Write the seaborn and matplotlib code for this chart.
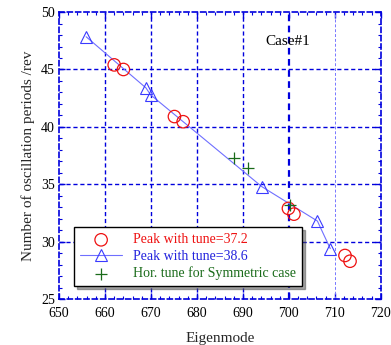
import matplotlib
matplotlib.use("Agg")
import matplotlib.pyplot as plt
import seaborn as sns
import pandas as pd
from matplotlib.ticker import MultipleLocator

red_x = [662.0, 664.0, 675.1, 677.0, 699.9, 701.1, 712.2, 713.3]
red_y = [45.4, 45.0, 40.9, 40.45, 32.9, 32.4, 28.8, 28.3]
tri_x = [655.9, 668.9, 669.9, 694.1, 706.2, 709.0]
tri_y = [47.85, 43.4, 42.8, 34.8, 31.8, 29.4]
plus_x = [688.0, 691.1, 700.2]
plus_y = [37.3, 36.4, 33.2]

labels = ["Peak with tune=37.2", "Peak with tune=38.6", "Hor. tune for Symmetric case"]

sns.set_theme(style="ticks")
plt.rcParams['font.family'] = ['Liberation Serif', 'DejaVu Serif']

fig = plt.figure(figsize=(3.91, 3.45), dpi=100)
ax = fig.add_axes([0.151, 0.133, 0.823, 0.832])

blue = "#0000dd"
df_r = pd.DataFrame({"x": red_x, "y": red_y})
df_t = pd.DataFrame({"x": tri_x, "y": tri_y})
df_p = pd.DataFrame({"x": plus_x, "y": plus_y})

sns.lineplot(data=df_t, x="x", y="y", ax=ax, color="#6f6fff", lw=0.8, marker="^",
             markersize=8.5, markerfacecolor="none", markeredgecolor="#3a3aff",
             markeredgewidth=0.8, sort=False, label=labels[1], zorder=3)
sns.scatterplot(data=df_r, x="x", y="y", ax=ax, marker="o", s=80, facecolor="none",
                edgecolor="#ee1111", linewidth=0.9, label=labels[0], zorder=4)
sns.scatterplot(data=df_p, x="x", y="y", ax=ax, marker="+", s=75, color="#1a6b1a",
                linewidth=0.9, label=labels[2], zorder=4)

ax.set_xlim(650, 720)
ax.set_ylim(25, 50)
ax.xaxis.set_major_locator(MultipleLocator(10))
ax.yaxis.set_major_locator(MultipleLocator(5))
ax.xaxis.set_minor_locator(MultipleLocator(2))
ax.yaxis.set_minor_locator(MultipleLocator(1))

for xv in range(660, 720, 10):
    if xv == 700:
        ax.axvline(xv, color=blue, ls=(0, (3, 2)), lw=1.6, zorder=1)
    elif xv == 710:
        ax.axvline(xv, color="#7777ff", ls=(0, (3, 2)), lw=0.7, zorder=1)
    else:
        ax.axvline(xv, color=blue, ls=(0, (3, 2)), lw=1.0, zorder=1)
for yv in range(30, 50, 5):
    ax.axhline(yv, color=blue, ls=(0, (3, 2)), lw=1.0, zorder=1)

for s in ax.spines.values():
    s.set_color(blue)
    s.set_linestyle((0, (3, 2)))
    s.set_linewidth(1.2)

ax.tick_params(which="both", direction="in", top=True, right=True, color=blue,
               labelsize=10, labelcolor="black")
ax.tick_params(which="major", length=4, width=1)
ax.tick_params(axis="x", which="major", pad=6)
ax.tick_params(axis="y", which="major", pad=3)
ax.tick_params(which="minor", length=2.5, width=0.8)

ax.set_xlabel("Eigenmode", fontsize=11, labelpad=8)
ax.set_ylabel("Number of oscillation periods /rev", fontsize=11, labelpad=4)

ax.text(694.8, 47.4, "Case#1", fontsize=11, color="black", va="center")

h, l = ax.get_legend_handles_labels()
order = [l.index(t) for t in labels]
leg = ax.legend([h[i] for i in order], [l[i] for i in order], loc="lower left",
                bbox_to_anchor=(0.025, 0.02), fontsize=10, frameon=True, fancybox=False,
                shadow=True, edgecolor="black", framealpha=1, borderpad=0.45,
                handlelength=3.0, labelspacing=0.25, handletextpad=0.8)
leg.get_frame().set_linewidth(1.0)
cols = ["#ee1111", "#2222dd", "#1a6b1a"]
for t, c in zip(leg.get_texts(), cols):
    t.set_color(c)

fig.savefig("out.png", dpi=100)
